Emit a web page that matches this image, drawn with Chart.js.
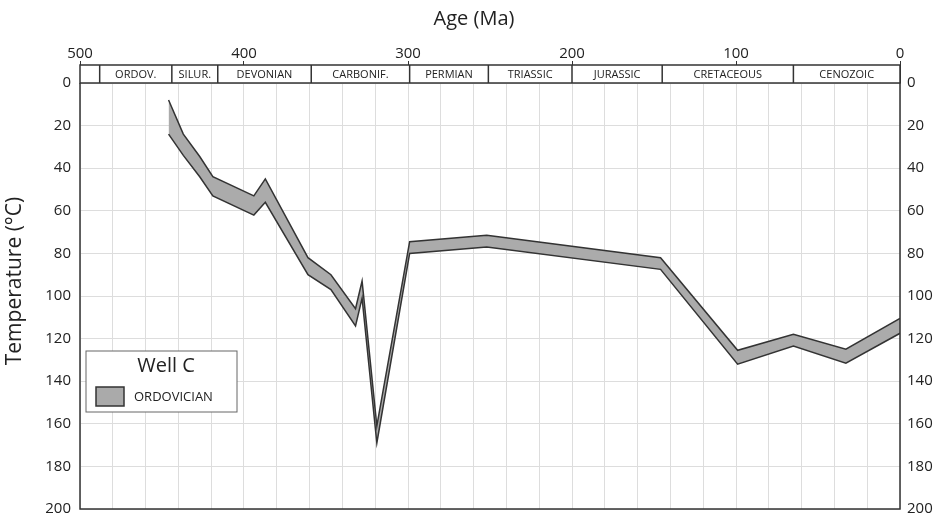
<!DOCTYPE html>
<html lang="en">
<head>
    <meta charset="UTF-8">
    <title>Well C - Temperature history</title>
    <script src="https://cdn.jsdelivr.net/npm/chart.js"></script>
    <style>
        body { margin: 0; background: #fff; }
        #wrap { width: 935px; height: 515px; position: relative; }
    </style>
</head>
<body>
    <div id="wrap"><canvas id="wellChart"></canvas></div>

    <script>
        // age (Ma) and temperature envelope (min / max, deg C)
        const ages    = [446, 437, 427, 419, 394, 387, 361, 347, 332, 328, 319, 299, 252, 146, 99, 65, 33, 0];
        const minTemp = [8, 24, 34.5, 44, 53, 45, 82, 90, 106, 93, 161, 74.5, 71.5, 82, 125.5, 118, 125, 110.5];
        const maxTemp = [24, 34, 44, 53, 62, 56, 90, 97, 114, 101, 169, 80, 77, 87.5, 132, 123.5, 131.5, 117.5];

        // geological periods along the top
        const periodEdges = [500, 488, 444, 416, 359, 299, 251, 200, 145, 65, 0];
        const periodNames = ['', 'ORDOV.', 'SILUR.', 'DEVONIAN', 'CARBONIF.', 'PERMIAN', 'TRIASSIC', 'JURASSIC', 'CRETACEOUS', 'CENOZOIC'];

        const FONT = "'Open Sans', 'Noto Sans', sans-serif";
        const INK = '#222';

        const decor = {
            id: 'decor',
            afterDraw(chart) {
                const ctx = chart.ctx;
                const a = chart.chartArea;
                const x = chart.scales.x;

                // frame left / right / bottom
                ctx.save();
                ctx.strokeStyle = '#333';
                ctx.lineWidth = 1.5;
                ctx.beginPath();
                ctx.moveTo(a.left, a.top);
                ctx.lineTo(a.left, a.bottom);
                ctx.lineTo(a.right, a.bottom);
                ctx.lineTo(a.right, a.top);
                ctx.stroke();

                // period band
                const bandTop = a.top - 18;
                ctx.fillStyle = '#fff';
                ctx.fillRect(a.left, bandTop, a.right - a.left, 18);
                ctx.strokeRect(a.left, bandTop, a.right - a.left, 18);
                ctx.font = '11px ' + FONT;
                ctx.fillStyle = INK;
                ctx.textAlign = 'center';
                ctx.textBaseline = 'middle';
                for (let i = 0; i < periodNames.length; i++) {
                    const x0 = x.getPixelForValue(periodEdges[i]);
                    const x1 = x.getPixelForValue(periodEdges[i + 1]);
                    if (i > 0) {
                        ctx.beginPath();
                        ctx.moveTo(x0, bandTop);
                        ctx.lineTo(x0, a.top);
                        ctx.stroke();
                    }
                    ctx.fillText(periodNames[i], (x0 + x1) / 2, bandTop + 9.5);
                }

                // axis titles
                ctx.font = '20px ' + FONT;
                ctx.fillText('Age (Ma)', 474, 19);
                ctx.save();
                ctx.translate(15, 281);
                ctx.rotate(-Math.PI / 2);
                ctx.font = '21px ' + FONT;
                ctx.fillText('Temperature (\u00B0C)', 0, 0);
                ctx.restore();

                // legend box
                ctx.fillStyle = '#fff';
                ctx.strokeStyle = '#666';
                ctx.lineWidth = 1;
                ctx.fillRect(86, 351, 151, 61);
                ctx.strokeRect(86, 351, 151, 61);
                ctx.fillStyle = INK;
                ctx.font = '20px ' + FONT;
                ctx.fillText('Well C', 166, 366);
                ctx.fillStyle = '#aaa';
                ctx.strokeStyle = '#333';
                ctx.lineWidth = 1.5;
                ctx.fillRect(96, 387, 28, 19);
                ctx.strokeRect(96, 387, 28, 19);
                ctx.fillStyle = INK;
                ctx.font = '13px ' + FONT;
                ctx.textAlign = 'left';
                ctx.fillText('ORDOVICIAN', 134, 397);
                ctx.restore();
            }
        };

        const hidden = 'rgba(0,0,0,0)';

        new Chart(document.getElementById('wellChart'), {
            type: 'line',
            data: {
                datasets: [
                    {
                        label: 'min',
                        data: ages.map((a, i) => ({ x: a, y: minTemp[i] })),
                        borderColor: '#333',
                        borderWidth: 1.5,
                        pointRadius: 0,
                        tension: 0,
                        fill: false
                    },
                    {
                        label: 'ORDOVICIAN',
                        data: ages.map((a, i) => ({ x: a, y: maxTemp[i] })),
                        borderColor: '#333',
                        borderWidth: 1.5,
                        backgroundColor: '#ababab',
                        pointRadius: 0,
                        tension: 0,
                        fill: '-1'
                    }
                ]
            },
            options: {
                responsive: true,
                maintainAspectRatio: false,
                animation: false,
                layout: { padding: { top: 0, left: 0, right: 0, bottom: 0 } },
                plugins: { legend: { display: false }, tooltip: { enabled: false } },
                scales: {
                    x: {
                        type: 'linear',
                        position: 'top',
                        min: 0,
                        max: 500,
                        reverse: true,
                        ticks: {
                            stepSize: 20,
                            autoSkip: false,
                            maxRotation: 0,
                            padding: 0,
                            color: INK,
                            font: { size: 15, family: FONT, lineHeight: 1 },
                            callback: v => (v % 100 === 0 ? v : '')
                        },
                        grid: {
                            color: '#dddddd',
                            tickLength: 22,
                            tickColor: c => (c.tick && c.tick.value % 100 === 0 ? '#333' : hidden)
                        },
                        border: { display: false },
                        afterFit: s => { s.height = 83; }
                    },
                    y: {
                        position: 'left',
                        min: 0,
                        max: 200,
                        reverse: true,
                        ticks: { stepSize: 20, padding: 0, color: INK, font: { size: 15, family: FONT, lineHeight: 0.8 } },
                        grid: { color: '#dddddd', tickLength: 9, tickColor: hidden },
                        border: { display: false },
                        afterFit: s => { s.width = 80; }
                    },
                    y2: {
                        position: 'right',
                        min: 0,
                        max: 200,
                        reverse: true,
                        ticks: { stepSize: 20, padding: 0, color: INK, font: { size: 15, family: FONT, lineHeight: 0.8 } },
                        grid: { drawOnChartArea: false, tickLength: 7, tickColor: hidden },
                        border: { display: false },
                        afterFit: s => { s.width = 35; }
                    }
                }
            },
            plugins: [decor]
        });
    </script>
</body>
</html>
